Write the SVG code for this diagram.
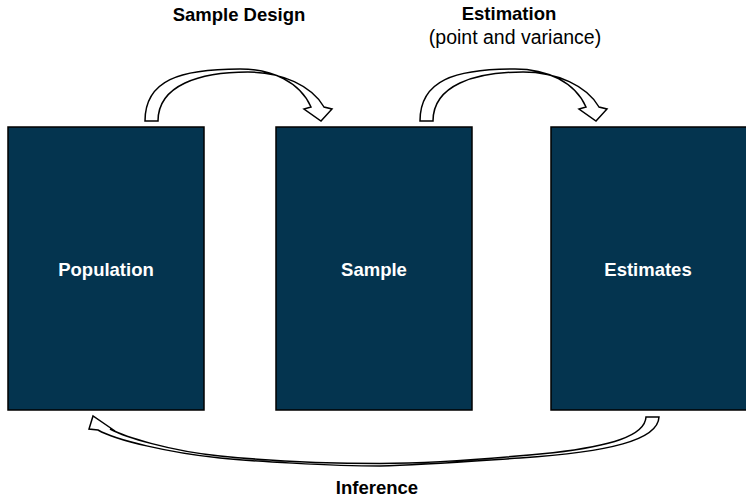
<svg xmlns="http://www.w3.org/2000/svg" width="746" height="499" viewBox="0 0 746 499">
<style>
.box{fill:#04344f;stroke:#000;stroke-width:1.5}
.lbl{font-family:"Liberation Sans",Arial,sans-serif;font-weight:bold;font-size:18.5px;fill:#fff;text-anchor:middle}
.t{font-family:"Liberation Sans",Arial,sans-serif;font-weight:bold;font-size:18.5px;fill:#000;text-anchor:middle}
.s{font-family:"Liberation Sans",Arial,sans-serif;font-size:19.5px;fill:#000;text-anchor:middle}
.arr{fill:#fff;stroke:#000;stroke-width:1.5;stroke-linejoin:miter}
</style>
<rect width="746" height="499" fill="#fff"/>
<g id="population"><rect class="box" x="8" y="127" width="196" height="283"/><text class="lbl" x="106" y="276">Population</text></g>
<g id="sample"><rect class="box" x="276" y="127" width="196" height="283"/><text class="lbl" x="374" y="276">Sample</text></g>
<g id="estimates"><rect class="box" x="551" y="127" width="196" height="283"/><text class="lbl" x="648" y="276">Estimates</text></g>
<g id="connectors">
<path id="a1" class="arr" d="M145,121 C145,80 180,69 240,69 C272,69 300,82 311,107 L304,109 L321,121 L332,109 L324,107 C312,86 282,72 248,72 C200,72 158,85 158,121 Z"/>
<path id="a2" class="arr" transform="translate(275,0)" d="M145,121 C145,80 180,69 240,69 C272,69 300,82 311,107 L304,109 L321,121 L332,109 L324,107 C312,86 282,72 248,72 C200,72 158,85 158,121 Z"/>
<path id="a3" class="arr" d="M659,417 C658,440 610,452 520,458 C460,462 420,465 380,466 C330,466 250,461 220,458 C170,453 115,440 98,430 L89,429 L93,416 L115,431 L110,429 C125,437 170,451 220,456 C260,460 320,463.5 380,463.5 C440,463 500,458 553,452.7 C610,446 645,436 646,417 Z"/>
</g>
<g id="labels">
<text class="t" x="239" y="20.5">Sample Design</text>
<text class="t" x="509" y="20">Estimation</text>
<text class="s" x="515" y="44">(point and variance)</text>
<text class="t" x="377" y="494">Inference</text>
</g>
</svg>
